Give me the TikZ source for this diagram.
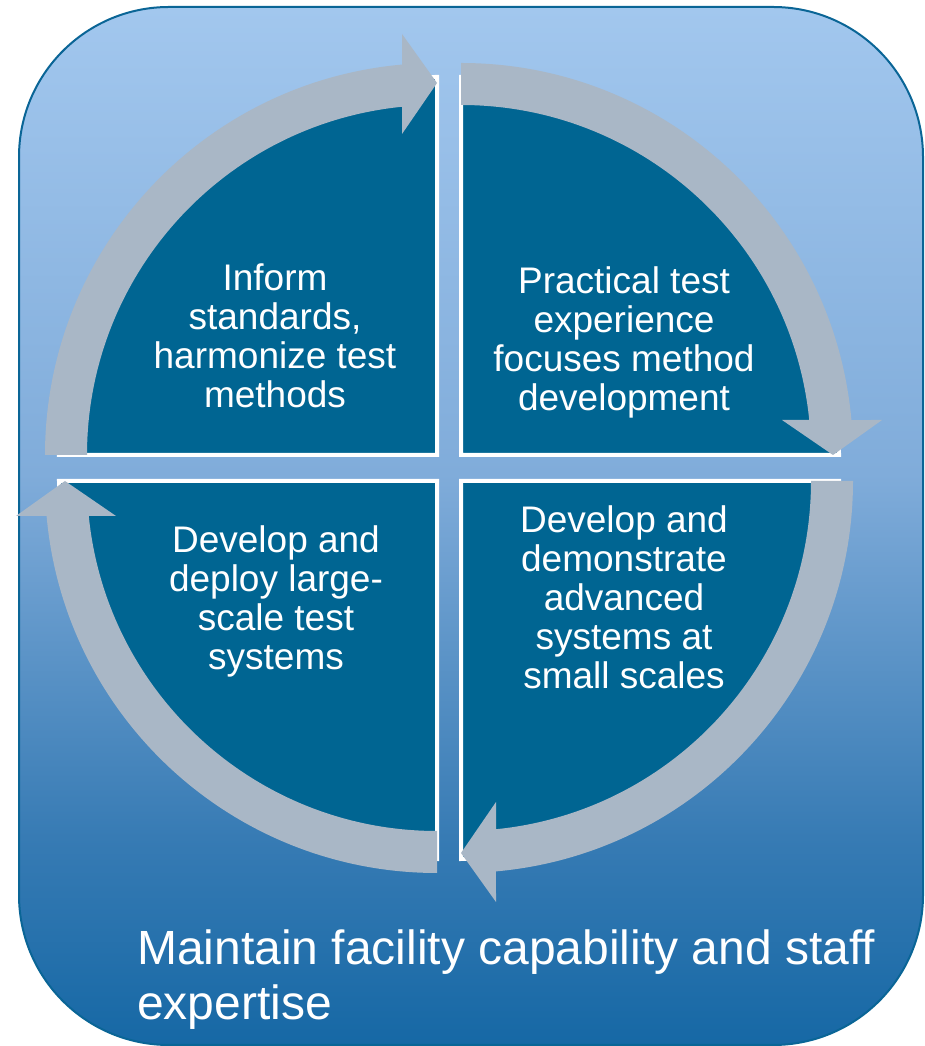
\documentclass[tikz,border=0pt]{standalone}
\usepackage{fontspec}
\setmainfont{Liberation Sans}
\definecolor{quad}{RGB}{0,101,146}
\definecolor{cyclegrey}{RGB}{169,183,198}
\definecolor{frame}{RGB}{10,101,150}
\definecolor{bgtop}{RGB}{162,199,238}
\definecolor{bgmid}{RGB}{128,172,218}
\definecolor{bglow}{RGB}{55,123,180}
\definecolor{bgbot}{RGB}{22,104,165}
\pgfdeclareverticalshading{bgshade}{100bp}{color(0bp)=(bgbot); color(25bp)=(bgbot); color(35bp)=(bglow); color(52.5bp)=(bgmid); color(75bp)=(bgtop); color(100bp)=(bgtop)}
\tikzstyle{quarter} = [fill=quad,draw=white,line width=4pt]
\tikzstyle{cyclearrow} = [fill=cyclegrey]
\tikzstyle{quadtext} = [text=white,align=center,inner sep=0,font=\fontsize{37}{39}\selectfont]
\tikzstyle{foottext} = [text=white,align=left,inner sep=0,anchor=west,font=\fontsize{48}{55}\selectfont]
\def \rin {350}
\def \rout {392}
\def \rpie {378}

\begin{document}
\begin{tikzpicture}[x=1pt,y=1pt]
      \useasboundingbox (0,0) rectangle (924,1046);
      \shade[shading=bgshade,draw=frame,line width=2pt,rounded corners=150pt] (19,1) rectangle (923,1039);
      \foreach \cx/\cy/\a in {437/591/90, 461/591/0, 461/565/-90, 437/565/180}
        \draw[quarter] (\cx,\cy) -- ++(\a:\rpie) arc[start angle=\a,end angle=\a+90,radius=\rpie] -- cycle;
      \foreach \cx/\cy/\r in {437/591/0, 461/591/-90, 461/565/-180, 437/565/-270}
        \fill[cyclearrow,shift={(\cx,\cy)},rotate=\r] (180:\rout) arc[start angle=180,end angle=95.12,radius=\rout]
          -- (-35,421) -- (0,372) -- (-35,321) -- (95.74:\rin) arc[start angle=95.74,end angle=180,radius=\rin] -- cycle;
      \node[quadtext] (inform) at (275,710) {Inform\\standards,\\harmonize test\\methods};
      \node[quadtext] (practical) at (624,704) {Practical test\\experience\\focuses method\\development};
      \node[quadtext] (largescale) at (276,445) {Develop and\\deploy large-\\scale test\\systems};
      \node[quadtext] (smallscale) at (624,448.5) {Develop and\\demonstrate\\advanced\\systems at\\small scales};
      \node[foottext] (maintain) at (137,66) {Maintain facility capability and staff\\expertise};
\end{tikzpicture}
\end{document}
